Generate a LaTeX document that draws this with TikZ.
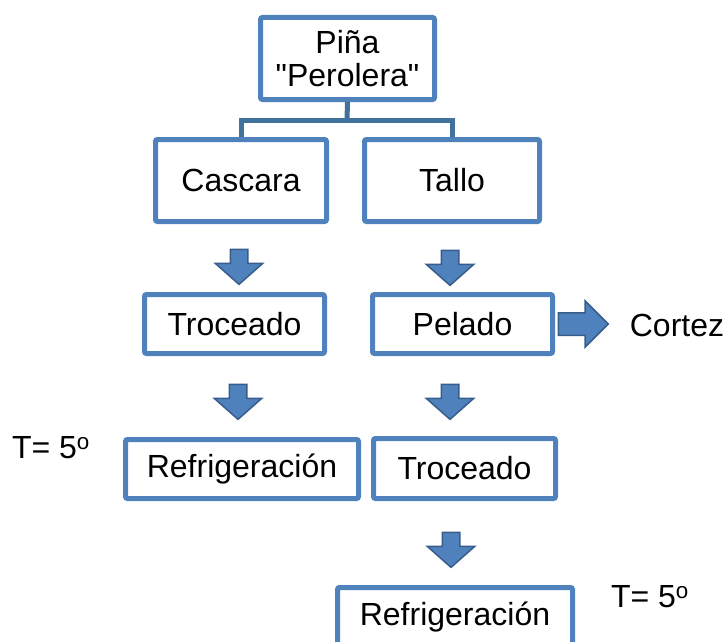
\documentclass[tikz,border=0pt]{standalone}
\usepackage{fontspec}
\setmainfont{Liberation Sans}[Ligatures=TeXOff]
\usetikzlibrary{shapes.arrows}
\definecolor{boxblue}{HTML}{4F81BD}
\definecolor{edgeblue}{HTML}{385D8A}
\definecolor{linkblue}{HTML}{41719C}
\begin{document}
\begin{tikzpicture}[x=1pt,y=-1pt,
	box/.style={draw=boxblue,line width=5pt,fill=white,rounded corners=2pt,align=center,inner sep=0pt,font=\fontsize{32}{33}\selectfont},
	txt/.style={inner sep=0pt,font=\fontsize{32}{33}\selectfont},
	blockarrow/.style={single arrow,draw=edgeblue,fill=boxblue,line width=1.5pt,single arrow head indent=0pt,inner xsep=0pt},
	downarrow/.style={blockarrow,rotate=-90,minimum height=35pt,inner ysep=8pt,single arrow head extend=15pt,single arrow tip angle=97}]
	\useasboundingbox (0,0) rectangle (728,642);
	% boxes
	\node[box,minimum width=174pt,minimum height=82pt] (pina) at (347.5,58.5) {Piña\\"Perolera"};
	\node[box,minimum width=171pt,minimum height=82pt] (cascara) at (241,180.5) {Cascara};
	\node[box,minimum width=175pt,minimum height=82pt] (tallo) at (452,180.5) {Tallo};
	\node[box,minimum width=180pt,minimum height=59pt] (trocL) at (234.5,324) {Troceado};
	\node[box,minimum width=180pt,minimum height=59pt] (pelado) at (462.5,324) {Pelado};
	\node[box,minimum width=233pt,minimum height=59pt] (refrL) at (242,469) {Refrigeración};
	\node[box,minimum width=182pt,minimum height=60pt] (trocR) at (464.5,468.5) {Troceado};
	\node[box,minimum width=235pt,minimum height=59pt] (refrR) at (455,617) {Refrigeración};
	% tree link
	\coordinate (fork) at (347,120);
	\draw[linkblue,line width=5pt] (pina.south) -- (fork);
	\draw[linkblue,line width=5pt] (cascara.north) |- (fork) -| (tallo.north);
	% block arrows
	\foreach \n/\x/\y in {a1/239/263, a2/238/398, a3/450/264, a4/450/398, a5/451/546}
		\node[downarrow] (\n) at (\x,\y) {};
	\node[blockarrow,anchor=tail,minimum height=50pt,inner ysep=10.5pt,single arrow head extend=12pt] (cut) at ([xshift=2.5pt]pelado.east) {};
	% labels
	\node[txt] (cortez) at (677,325) {Cortez};
	\node[txt] (tempL) at (51,448) {T= 5\textsuperscript{o}};
	\node[txt] (tempR) at (650,597) {T= 5\textsuperscript{o}};
\end{tikzpicture}
\end{document}
